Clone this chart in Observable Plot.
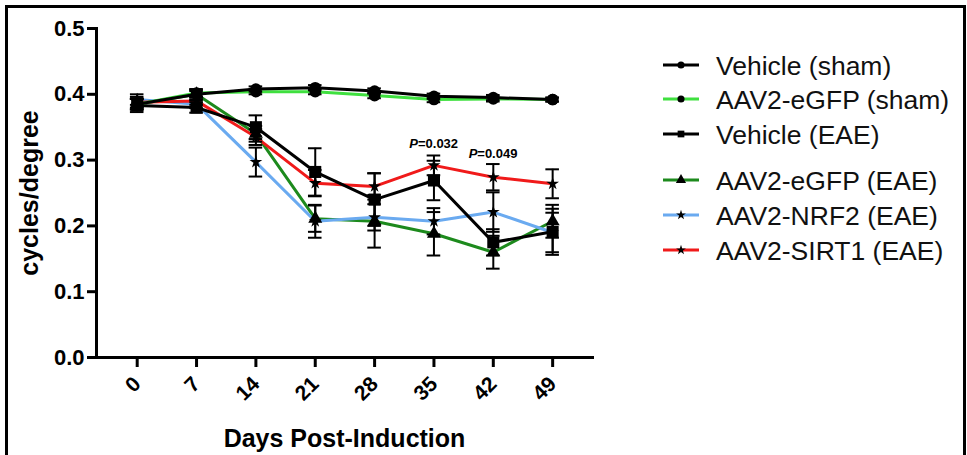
<!DOCTYPE html>
<html><head><meta charset="utf-8">
<script src="https://cdn.jsdelivr.net/npm/d3@7"></script>
<script src="https://cdn.jsdelivr.net/npm/@observablehq/plot@0.6"></script>
<style>body{margin:0;background:#fff;} #chart{width:967px;height:455px;}</style>
</head><body><div id="chart"></div>
<script>
// ---- data ----
const days = [0, 7, 14, 21, 28, 35, 42, 49];
const yTicks = [0, 0.1, 0.2, 0.3, 0.4, 0.5];
const seriesNames = ["Vehicle (sham)", "AAV2-eGFP (sham)", "Vehicle (EAE)", "AAV2-eGFP (EAE)", "AAV2-NRF2 (EAE)", "AAV2-SIRT1 (EAE)"];
const seriesColors = ["#000000", "#3fe03f", "#000000", "#1d8a1d", "#6aaaf0", "#f01a1a"];
const seriesSymbols = ["circle", "circle", "square", "triangle", "star", "star"];
const vehicleSham = [0.385, 0.400, 0.408, 0.410, 0.405, 0.397, 0.395, 0.392];
const egfpSham    = [0.385, 0.402, 0.404, 0.404, 0.398, 0.392, 0.393, 0.392];
const vehicleEAE  = [0.383, 0.380, 0.350, 0.282, 0.240, 0.269, 0.175, 0.191];
const egfpEAE     = [0.385, 0.400, 0.340, 0.211, 0.207, 0.188, 0.160, 0.207];
const nrf2EAE     = [0.392, 0.385, 0.297, 0.207, 0.213, 0.207, 0.221, 0.190];
const sirt1EAE    = [0.388, 0.390, 0.335, 0.265, 0.260, 0.292, 0.274, 0.264];
const vehicleShamErr = [0.008, 0.005, 0.004, 0.004, 0.004, 0.004, 0.004, 0.003];
const egfpShamErr    = [0.008, 0.005, 0.004, 0.004, 0.004, 0.004, 0.004, 0.003];
const vehicleEAEErr  = [0.010, 0.008, 0.018, 0.036, 0.040, 0.030, 0.020, 0.035];
const egfpEAEErr     = [0.008, 0.008, 0.012, 0.020, 0.040, 0.033, 0.025, 0.025];
const nrf2EAEErr     = [0.008, 0.006, 0.022, 0.025, 0.020, 0.020, 0.030, 0.030];
const sirt1EAEErr    = [0.008, 0.006, 0.012, 0.020, 0.020, 0.015, 0.020, 0.022];
const pDays = [35, 42];
const pLevels = [0.325, 0.309];
const pTexts = ["=0.032", "=0.049"];

const allValues = [vehicleSham, egfpSham, vehicleEAE, egfpEAE, nrf2EAE, sirt1EAE];
const allErrs = [vehicleShamErr, egfpShamErr, vehicleEAEErr, egfpEAEErr, nrf2EAEErr, sirt1EAEErr];

const series = seriesNames.map((name, i) => ({
  name, color: seriesColors[i], symbol: seriesSymbols[i],
  rows: days.map((d, j) => ({day: d, value: allValues[i][j], err: allErrs[i][j]}))
}));

const drawOrder = [3, 4, 5, 2, 1, 0];
const symbolSize = {circle: 5.8, square: 6.8, triangle: 5.2, star: 4};

const marks = [];
for (const i of drawOrder) {
  const s = series[i];
  marks.push(Plot.line(s.rows, {x: "day", y: "value", stroke: s.color, strokeWidth: 3, strokeLinejoin: "round"}));
}
for (const i of drawOrder) {
  const s = series[i];
  marks.push(Plot.ruleX(s.rows, {x: "day", y1: d => d.value - d.err, y2: d => d.value + d.err, stroke: "#000", strokeWidth: 2}));
  marks.push(Plot.ruleY(s.rows, {y: d => d.value - d.err, x1: d => d.day - 0.8, x2: d => d.day + 0.8, stroke: "#000", strokeWidth: 2}));
  marks.push(Plot.ruleY(s.rows, {y: d => d.value + d.err, x1: d => d.day - 0.8, x2: d => d.day + 0.8, stroke: "#000", strokeWidth: 2}));
}
for (const i of drawOrder) {
  const s = series[i];
  marks.push(Plot.dot(s.rows, {x: "day", y: "value", symbol: s.symbol, r: symbolSize[s.symbol], fill: "#000", stroke: "none"}));
}

const pData = pDays.map((d, i) => ({day: d, level: pLevels[i], text: pTexts[i]}));

const chart = Plot.plot({
  width: 967, height: 455,
  marginLeft: 96, marginRight: 375, marginTop: 28, marginBottom: 98,
  x: {domain: [-4.8, 53.7]},
  y: {domain: [0, 0.5]},
  style: {fontFamily: "'Liberation Sans', Arial, sans-serif", background: "#fff", color: "#000"},
  marks: [
    Plot.axisY({ticks: yTicks, tickFormat: d3.format(".1f"), tickSize: 9, tickPadding: 3, strokeWidth: 3, fontSize: 22, fontWeight: "bold", label: null}),
    Plot.axisX({ticks: days, tickFormat: d => String(d), tickSize: 10, tickPadding: 13, tickRotate: -45, strokeWidth: 3, fontSize: 21, fontWeight: "bold", label: null}),
    Plot.frame({anchor: "left", strokeWidth: 3}),
    Plot.frame({anchor: "bottom", strokeWidth: 3}),
    Plot.text(["cycles/degree"], {frameAnchor: "left", textAnchor: "middle", dx: -67, rotate: -90, fontSize: 25, fontWeight: "bold"}),
    Plot.text(["Days Post-Induction"], {frameAnchor: "bottom", dy: 89, fontSize: 25, fontWeight: "bold"}),
    ...marks,
    Plot.text(pData, {x: "day", y: "level", text: () => "P", textAnchor: "end", dx: -16, fontSize: 13, fontWeight: "bold", fontStyle: "italic"}),
    Plot.text(pData, {x: "day", y: "level", text: "text", textAnchor: "start", dx: -16, fontSize: 13, fontWeight: "bold"})
  ]
});

document.getElementById("chart").appendChild(chart);

// legend + outer frame
const svg = d3.select(chart);
svg.append("path").attr("d", "M6.5,455V6.5H964.5V455").attr("fill", "none").attr("stroke", "#000").attr("stroke-width", 3);
const legendY = [65, 99, 134, 180, 215, 250];
const symbolTypes = {circle: d3.symbolCircle, square: d3.symbolSquare, triangle: d3.symbolTriangle, star: d3.symbolStar};
const legendSize = {circle: 40, square: 45, triangle: 45, star: 30};
const lg = svg.append("g").attr("font-family", "'Liberation Sans', Arial, sans-serif").attr("text-anchor", "start");
series.forEach((s, i) => {
  const y = legendY[i];
  lg.append("line").attr("x1", 663).attr("x2", 699).attr("y1", y).attr("y2", y).attr("stroke", s.color).attr("stroke-width", 3);
  lg.append("path").attr("transform", `translate(681,${y})`).attr("d", d3.symbol(symbolTypes[s.symbol], legendSize[s.symbol])()).attr("fill", "#000");
  lg.append("text").attr("x", 716).attr("y", y).attr("dy", "0.36em").attr("font-size", 26.5).attr("fill", "#111").attr("text-anchor", "start").text(s.name);
});
</script>
</body></html>
